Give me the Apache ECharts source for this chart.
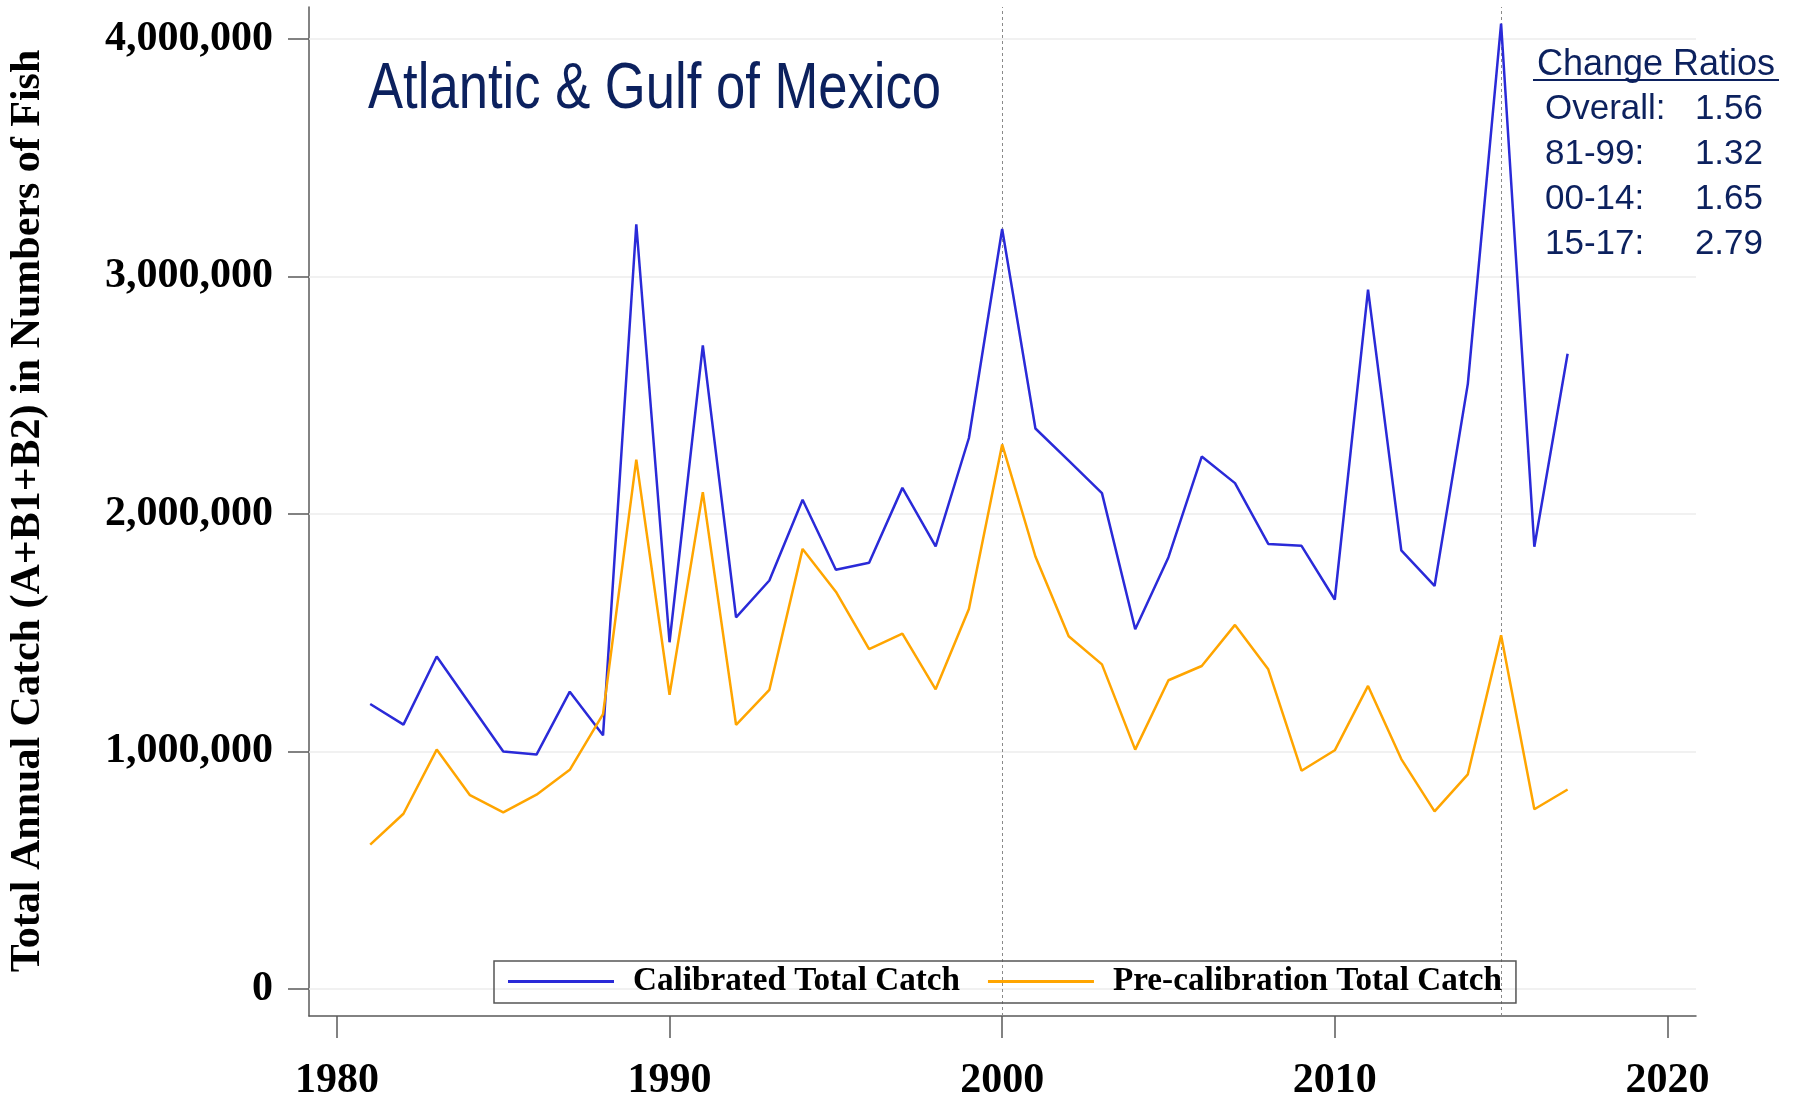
<!DOCTYPE html>
<html>
<head>
<meta charset="utf-8">
<script src="https://cdn.jsdelivr.net/npm/echarts@6/dist/echarts.min.js"></script>
<style>
html,body{margin:0;padding:0;background:#fff;}
#chart{width:1797px;height:1097px;}
</style>
</head>
<body>
<div id="chart"></div>
<script>
// ---- data ----
const years = [1981,1982,1983,1984,1985,1986,1987,1988,1989,1990,1991,1992,1993,1994,1995,1996,1997,1998,1999,
  2000,2001,2002,2003,2004,2005,2006,2007,2008,2009,2010,2011,2012,2013,2014,2015,2016,2017];
const calibrated = [1200000,1113000,1400000,1200000,1000000,987000,1252000,1068000,3220000,1460000,2710000,1565000,1720000,2060000,1765000,1795000,2110000,1864000,2320000,
  3200000,2360000,2225000,2088000,1515000,1818000,2242000,2130000,1874000,1866000,1640000,2945000,1847000,1697000,2548000,4065000,1862000,2675000];
const precalibration = [608000,738000,1008000,816000,744000,818000,923000,1157000,2229000,1239000,2092000,1112000,1259000,1853000,1673000,1431000,1496000,1262000,1600000,
  2293000,1821000,1485000,1367000,1008000,1300000,1360000,1533000,1346000,919000,1005000,1276000,968000,748000,904000,1489000,757000,840000];
const seriesNames = ['Calibrated Total Catch', 'Pre-calibration Total Catch'];
const yTicks = [0, 1000000, 2000000, 3000000, 4000000];
const xTicks = [1980, 1990, 2000, 2010, 2020];
const refYears = [2000, 2015];
const titleText = 'Atlantic & Gulf of Mexico';
const yAxisTitle = 'Total Annual Catch (A+B1+B2) in Numbers of Fish';
const ratioHeader = 'Change Ratios';
const ratioLabels = ['Overall:', '81-99:', '00-14:', '15-17:'];
const ratioValues = ['1.56', '1.32', '1.65', '2.79'];

// ---- chart ----
const navy = '#0c215e';
const serif = '"Liberation Serif", "Times New Roman", serif';
const sans = '"Liberation Sans", Arial, sans-serif';
const chart = echarts.init(document.getElementById('chart'), null, {renderer: 'canvas'});

const pairs = arr => years.map((y, i) => [y, arr[i]]);

const graphics = [
  {type: 'text', x: 368, y: 90, scaleX: 0.822, style: {text: titleText, font: '64px ' + sans, fill: navy, textAlign: 'left', textVerticalAlign: 'middle'}},
  {type: 'text', x: 28, y: 511, rotation: Math.PI / 2, style: {text: yAxisTitle, font: 'bold 42px ' + serif, fill: '#000', textAlign: 'center', textVerticalAlign: 'middle'}},
  {type: 'text', x: 1656, y: 65, style: {text: ratioHeader, font: '36px ' + sans, fill: navy, textAlign: 'center', textVerticalAlign: 'middle'}},
  {type: 'line', shape: {x1: 1533, y1: 80, x2: 1779, y2: 80}, style: {stroke: navy, lineWidth: 2}}
];
ratioLabels.forEach((t, i) => {
  graphics.push({type: 'text', x: 1545, y: 109 + i * 45, style: {text: t, font: '35px ' + sans, fill: navy, textAlign: 'left', textVerticalAlign: 'middle'}});
  graphics.push({type: 'text', x: 1763, y: 109 + i * 45, style: {text: ratioValues[i], font: '35px ' + sans, fill: navy, textAlign: 'right', textVerticalAlign: 'middle'}});
});

const option = {
  animation: false,
  backgroundColor: '#fff',
  grid: {left: 309, right: 101, top: 7, bottom: 81, containLabel: false, outerBoundsMode: 'none'},
  xAxis: {
    type: 'value', min: 1979.16, max: 2020.86,
    axisLine: {show: true, onZero: false, lineStyle: {color: '#5a5a5a', width: 1.5}},
    axisTick: {show: true, length: 22, customValues: xTicks, lineStyle: {color: '#5a5a5a', width: 1.5}},
    axisLabel: {customValues: xTicks, margin: 44, fontFamily: serif, fontWeight: 'bold', fontSize: 42, color: '#000', formatter: v => String(v)},
    splitLine: {show: false}
  },
  yAxis: {
    type: 'value', min: -113700, max: 4134700,
    axisLine: {show: true, onZero: false, lineStyle: {color: '#5a5a5a', width: 1.5}},
    axisTick: {show: true, length: 21, customValues: yTicks, lineStyle: {color: '#5a5a5a', width: 1.5}},
    axisLabel: {customValues: yTicks, margin: 36, fontFamily: serif, fontWeight: 'bold', fontSize: 42, color: '#000', formatter: v => Math.round(v).toLocaleString('en-US')},
    splitLine: {show: false}
  },
  legend: {
    data: seriesNames,
    left: 494, top: 961, orient: 'horizontal',
    padding: [4, 14, 5, 14], itemGap: 28, itemWidth: 106, itemHeight: 3, icon: 'rect',
    borderColor: '#555', borderWidth: 1.5, borderRadius: 0,
    textStyle: {fontFamily: serif, fontWeight: 'bold', fontSize: 33.2, color: '#000', padding: [2, 0, 0, 14]}
  },
  graphic: graphics,
  series: [
    {
      name: '_grid', type: 'line', data: [], z: 1, silent: true,
      markLine: {
        silent: true, symbol: ['none', 'none'], z: 1, label: {show: false}, emphasis: {disabled: true},
        lineStyle: {color: '#ececec', width: 1.5, type: 'solid'},
        data: yTicks.map(v => ({yAxis: v}))
      }
    },
    {
      name: '_ref', type: 'line', data: [], z: 1, silent: true,
      markLine: {
        silent: true, symbol: ['none', 'none'], z: 1, label: {show: false}, emphasis: {disabled: true},
        lineStyle: {color: '#8a8a8a', width: 1, type: [3, 3]},
        data: refYears.map(v => ({xAxis: v}))
      }
    },
    {
      name: seriesNames[0], type: 'line', data: pairs(calibrated), symbol: 'none', z: 3,
      lineStyle: {color: '#2a2ad8', width: 2.5}, itemStyle: {color: '#2a2ad8'}
    },
    {
      name: seriesNames[1], type: 'line', data: pairs(precalibration), symbol: 'none', z: 3,
      lineStyle: {color: '#ffa500', width: 2.5}, itemStyle: {color: '#ffa500'}
    }
  ]
};
chart.setOption(option);
</script>
</body>
</html>
